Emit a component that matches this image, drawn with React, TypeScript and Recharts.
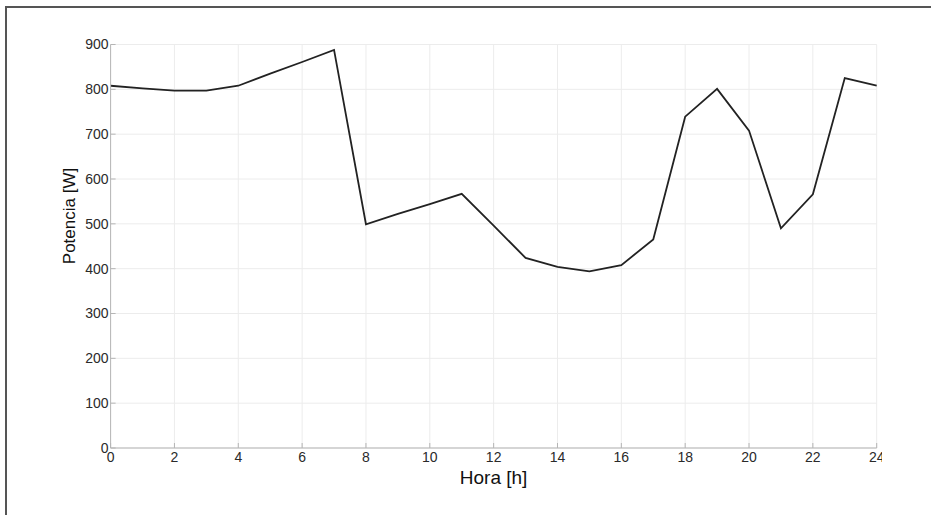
import { LineChart, Line, XAxis, YAxis, CartesianGrid, Label } from 'recharts'

const HOURS = [0, 1, 2, 3, 4, 5, 6, 7, 8, 9, 10, 11, 12, 13, 14, 15, 16, 17, 18, 19, 20, 21, 22, 23, 24]
const POWER = [808, 802, 797, 797, 808, 835, 861, 888, 499, 522, 544, 567, 496, 424, 404, 394, 408, 465, 739, 801, 708, 490, 566, 825, 808]
const X_TICKS = [0, 2, 4, 6, 8, 10, 12, 14, 16, 18, 20, 22, 24]
const Y_TICKS = [0, 100, 200, 300, 400, 500, 600, 700, 800, 900]

const data = HOURS.map((h, i) => ({ h, p: POWER[i] }))

const FONT = '"Liberation Sans", Arial, sans-serif'
const AXIS_GRAY = '#b5b5b5'

function YTick({ x, y, payload }: any) {
  const ax = x + 3
  return (
    <g>
      <line x1={ax} y1={y} x2={ax + 5} y2={y} stroke={AXIS_GRAY} />
      <text x={x + 1} y={y} dy="0.35em" textAnchor="end" fontSize={14} fill="#2a2a2a" fontFamily={FONT}>
        {payload.value}
      </text>
    </g>
  )
}

function XTick({ x, y, payload }: any) {
  const ay = y - 3
  return (
    <g>
      <line x1={x} y1={ay} x2={x} y2={ay - 5} stroke={AXIS_GRAY} />
      <text x={x} y={y} dy="0.75em" textAnchor="middle" fontSize={14} fill="#2a2a2a" fontFamily={FONT}>
        {payload.value}
      </text>
    </g>
  )
}

export default function App() {
  return (
    <div style={{ position: 'absolute', left: 0, top: 0, width: 931, height: 515, overflow: 'hidden', background: '#fff' }}>
      <div
        style={{
          position: 'absolute', left: 5, top: 6, width: 1000, height: 600,
          borderLeft: '2px solid #555', borderTop: '2px solid #555',
        }}
      />
      <div style={{ position: 'absolute', left: 0, top: 0, width: 882, height: 515, overflow: 'hidden' }}>
        <LineChart width={931} height={515} data={data} margin={{ top: 44.5, right: 54.3, left: 0, bottom: 0 }}>
          <CartesianGrid stroke="#ececec" />
          <XAxis
            dataKey="h"
            type="number"
            domain={[0, 24]}
            ticks={X_TICKS}
            interval={0}
            height={67}
            stroke={AXIS_GRAY}
            tickLine={false}
            tickSize={0}
            tickMargin={3}
            tick={<XTick />}
          >
            <Label
              content={() => (
                <text x={493.6} y={484} textAnchor="middle" fontSize={19} fill="#111" fontFamily={FONT}>
                  Hora [h]
                </text>
              )}
            />
          </XAxis>
          <YAxis
            type="number"
            domain={[0, 900]}
            ticks={Y_TICKS}
            interval={0}
            width={110.6}
            stroke={AXIS_GRAY}
            tickLine={false}
            tickSize={0}
            tickMargin={3}
            tick={<YTick />}
          >
            <Label
              content={() => (
                <text
                  x={75}
                  y={216}
                  transform="rotate(-90 75 216)"
                  textAnchor="middle"
                  fontSize={17}
                  fill="#111"
                  fontFamily={FONT}
                >
                  Potencia [W]
                </text>
              )}
            />
          </YAxis>
          <Line
            type="linear"
            dataKey="p"
            stroke="#222"
            strokeWidth={1.8}
            dot={false}
            isAnimationActive={false}
          />
        </LineChart>
      </div>
    </div>
  )
}
